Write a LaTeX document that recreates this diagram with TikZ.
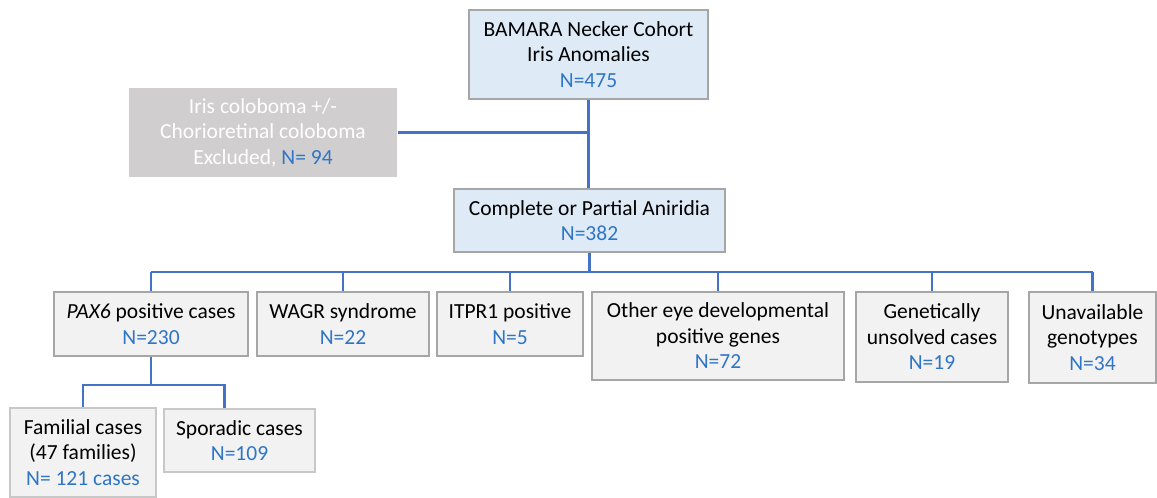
\documentclass[tikz,border=0pt]{standalone}
\usepackage{fontspec}
\setmainfont{Carlito}
\usetikzlibrary{positioning,calc}
\definecolor{lineblue}{RGB}{68,114,196}
\definecolor{numblue}{RGB}{46,117,200}
\definecolor{paleblue}{RGB}{222,235,247}
\definecolor{softgray}{RGB}{242,242,242}
\definecolor{edgegray}{RGB}{166,166,166}
\definecolor{lightedge}{RGB}{200,200,200}
\definecolor{exclgray}{RGB}{208,206,206}
\newcommand{\nval}[1]{\textcolor{numblue}{#1}}

\begin{document}
\begin{tikzpicture}[x=1pt,y=-1pt,
    box/.style={draw=edgegray,line width=2.4pt,fill=softgray,inner sep=0pt,align=center,font=\fontsize{21.5}{25.5}\selectfont},
    leaf/.style={box,draw=lightedge,line width=1.5pt},
    link/.style={draw=lineblue,line width=2.6pt}]
    \useasboundingbox (0,0) rectangle (1157,498);
    \node[box,fill=paleblue,minimum width=239pt,minimum height=89pt] (cohort) at (588.5,54.5) {BAMARA Necker Cohort\\Iris Anomalies\\\nval{N=475}};
    \node[box,draw=none,fill=exclgray,text=white,minimum width=268pt,minimum height=89pt] (excl) at (263,132.5) {Iris coloboma +/-\\Chorioretinal coloboma\\Excluded, \nval{N= 94}};
    \node[box,fill=paleblue,minimum width=271pt,minimum height=63pt] (aniridia) at (589.5,220.5) {Complete or Partial Aniridia\\\nval{N=382}};
    \node[box,minimum width=194pt,minimum height=64pt] (pax6) at (151,324) {\textit{PAX6} positive cases\\\nval{N=230}};
    \node[box,minimum width=172pt,minimum height=64pt] (wagr) at (343,324) {WAGR syndrome\\\nval{N=22}};
    \node[box,minimum width=146pt,minimum height=64pt] (itpr1) at (510,324) {ITPR1 positive\\\nval{N=5}};
    \node[box,minimum width=252pt,minimum height=88pt] (other) at (718,336) {Other eye developmental\\positive genes\\\nval{N=72}};
    \node[box,minimum width=152pt,minimum height=90pt] (gen) at (932,337) {Genetically\\unsolved cases\\\nval{N=19}};
    \node[box,minimum width=127pt,minimum height=91pt] (unav) at (1092.5,337.5) {Unavailable\\genotypes\\\nval{N=34}};
    \node[leaf,minimum width=146pt,minimum height=89pt] (familial) at (83,452.5) {Familial cases\\(47 families)\\\nval{N= 121 cases}};
    \node[leaf,minimum width=151pt,minimum height=63pt] (sporadic) at (239.5,440.5) {Sporadic cases\\\nval{N=109}};
    \coordinate (bus) at (0,272);
    \coordinate (subbus) at (0,385);
    \coordinate (spordrop) at ([xshift=-15pt]sporadic.north);
    % cohort -> excluded / aniridia
    \draw[link] (cohort.south) -- (cohort.south |- aniridia.north);
    \draw[link] (excl.east) -- (excl.east -| cohort.south);
    % aniridia -> genetic groups
    \draw[link] (aniridia.south) -- (aniridia.south |- bus);
    \draw[link] (pax6.north |- bus) -- (unav.north |- bus);
    \foreach \g in {pax6,wagr,itpr1,other,gen,unav}
      \draw[link] (\g.north |- bus) -- (\g.north);
    % PAX6 split
    \draw[link] (pax6.south) -- (pax6.south |- subbus);
    \draw[link] (familial.north) -- (familial.north |- subbus) -- (spordrop |- subbus) -- (spordrop);
\end{tikzpicture}
\end{document}
